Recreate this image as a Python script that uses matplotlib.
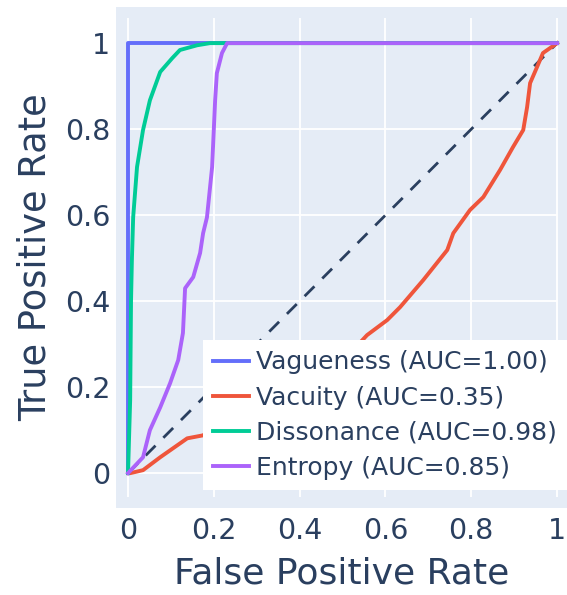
import numpy as np
import matplotlib
matplotlib.use('Agg')
import matplotlib.pyplot as plt

# ROC points (fpr, tpr)
vague_fpr = [0.0, 0.0, 1.0]
vague_tpr = [0.0, 1.0, 1.0]

vac_fpr = [0.0, 0.005, 0.035, 0.075, 0.138, 0.175, 0.191, 0.30, 0.42, 0.50,
           0.557, 0.604, 0.634, 0.688, 0.744, 0.758, 0.797, 0.828, 0.867,
           0.897, 0.921, 0.930, 0.937, 0.953, 0.967, 1.0]
vac_tpr = [0.0, 0.0, 0.007, 0.037, 0.081, 0.088, 0.10, 0.15, 0.21, 0.26,
           0.321, 0.356, 0.386, 0.449, 0.519, 0.558, 0.612, 0.642, 0.705,
           0.758, 0.798, 0.851, 0.907, 0.944, 0.977, 1.0]

dis_fpr = [0.0, 0.005, 0.007, 0.009, 0.012, 0.021, 0.035, 0.051, 0.075,
           0.103, 0.121, 0.161, 0.191, 1.0]
dis_tpr = [0.0, 0.17, 0.40, 0.495, 0.595, 0.712, 0.798, 0.867, 0.933,
           0.965, 0.984, 0.995, 1.0, 1.0]

ent_fpr = [0.0, 0.035, 0.051, 0.075, 0.098, 0.117, 0.128, 0.133, 0.152,
           0.168, 0.175, 0.184, 0.196, 0.203, 0.207, 0.219, 0.231, 1.0]
ent_tpr = [0.0, 0.037, 0.10, 0.153, 0.209, 0.263, 0.326, 0.430, 0.456,
           0.512, 0.558, 0.595, 0.712, 0.867, 0.930, 0.977, 1.0, 1.0]

labels = ['Vagueness (AUC=1.00)', 'Vacuity (AUC=0.35)',
          'Dissonance (AUC=0.98)', 'Entropy (AUC=0.85)']
colors = ['#636efa', '#EF553B', '#00cc96', '#ab63fa']
ticks = [0, 0.2, 0.4, 0.6, 0.8, 1]
tick_labels = ['0', '0.2', '0.4', '0.6', '0.8', '1']

txt = '#2a3f5f'
W, H = 567, 595
fig = plt.figure(figsize=(W / 100, H / 100), dpi=100, facecolor='white')
ax = fig.add_axes([116 / W, (H - 508) / H, (W - 116) / W, (508 - 7) / H])
ax.set_facecolor('#e5ecf6')
ax.set_xlim(-0.028, 1.023)
ax.set_ylim(-0.081, 1.084)

# grid (vertical lines run a bit longer than horizontal ones)
ax.vlines(ticks, -0.056, 1.058, colors='white', lw=1.3, zorder=1)
ax.hlines(ticks, 0, 1.0, colors='white', lw=1.3, zorder=1)

ax.plot([0, 1], [0, 1], color=txt, lw=2, dashes=(5, 4), zorder=2)
curves = [(vague_fpr, vague_tpr), (vac_fpr, vac_tpr),
          (dis_fpr, dis_tpr), (ent_fpr, ent_tpr)]
for (x, y), c, lab in zip(curves, colors, labels):
    ax.plot(x, y, color=c, lw=2.8, label=lab, zorder=3,
            solid_joinstyle='round')

for s in ax.spines.values():
    s.set_visible(False)
ax.set_xticks(ticks)
ax.set_xticklabels(tick_labels)
ax.set_yticks(ticks)
ax.set_yticklabels(tick_labels)
ax.tick_params(length=0, labelsize=20.5, labelcolor=txt, pad=4)
ax.tick_params(axis='x', pad=6.5)
ax.set_xlabel('False Positive Rate', fontsize=26, color=txt, labelpad=8)
ax.set_ylabel('True Positive Rate', fontsize=26.5, color=txt, labelpad=8)

leg = ax.legend(loc='lower right', bbox_to_anchor=(1.0, (H - 490) / H),
                bbox_transform=fig.transFigure, fontsize=18,
                frameon=True, fancybox=False, framealpha=1,
                handlelength=1.45, handletextpad=0.28, labelspacing=0.45,
                borderpad=0.4, borderaxespad=0)
leg.get_frame().set_edgecolor('white')
leg.get_frame().set_linewidth(0)
for t in leg.get_texts():
    t.set_color(txt)
leg.set_zorder(5)

fig.savefig('out.png', dpi=100)
